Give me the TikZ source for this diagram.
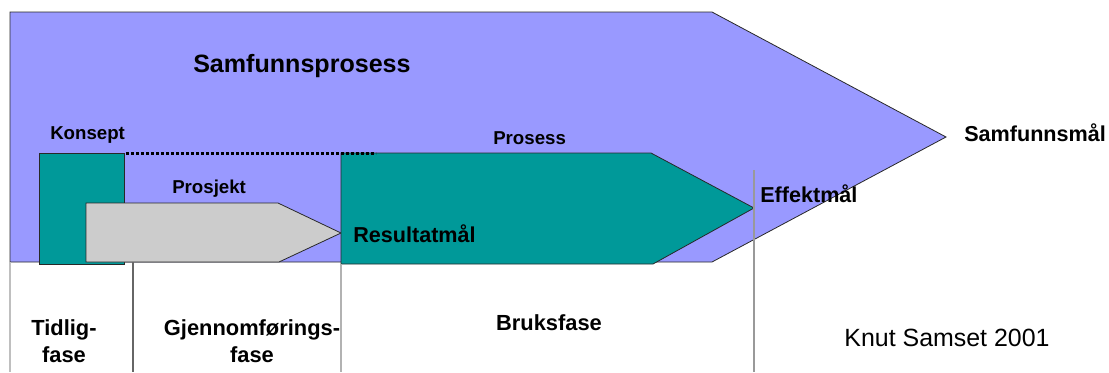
\documentclass[tikz,border=0pt]{standalone}
\usepackage{fontspec}
\setmainfont{Liberation Sans}
\definecolor{samfunn}{RGB}{153,153,255}
\definecolor{tealfill}{RGB}{0,153,153}
\definecolor{greyfill}{RGB}{204,204,204}
\definecolor{edge}{RGB}{40,40,40}
\begin{document}
\begin{tikzpicture}[x=0.75pt,y=-0.75pt,
  shapeline/.style={draw=edge,line width=0.6pt},
  bigtitle/.style={font=\bfseries\fontsize{18.8}{22}\selectfont,inner sep=0pt,anchor=base west},
  smalllbl/.style={font=\bfseries\fontsize{14}{17}\selectfont,inner sep=0pt,anchor=base west},
  goallbl/.style={font=\bfseries\fontsize{16.2}{19}\selectfont,inner sep=0pt,anchor=base west},
  phaselbl/.style={font=\bfseries\fontsize{16.4}{19}\selectfont,inner sep=0pt,anchor=base},
  divider/.style={line width=0.8pt}]
\useasboundingbox (0,0) rectangle (1109,372);

% society process arrow
\path[shapeline,fill=samfunn] (10,12) -- (712,12) -- (946,137) -- (712,262) -- (10,262) -- cycle;
% concept block
\path[shapeline,fill=tealfill] (39,153) rectangle (124,264);
% project arrow
\path[shapeline,fill=greyfill] (86,203) -- (278,203) -- (341,233) -- (279,262) -- (86,262) -- cycle;
% process (use) arrow
\path[shapeline,fill=tealfill] (341,153) -- (651,153) -- (754,208) -- (653,264) -- (341,264) -- cycle;
% dotted link between concept and process
\coordinate (dotA) at (126,153.3);
\coordinate (dotB) at (376,153.3);
\draw[line width=1.9pt,dash pattern=on 1.95pt off 1.8pt,color=black] (dotA) -- (dotB);

% phase dividers
\coordinate (d0t) at (10,262);  \coordinate (d0b) at (10,372);
\coordinate (d1t) at (133,262); \coordinate (d1b) at (133,372);
\coordinate (d2t) at (341,264); \coordinate (d2b) at (341,372);
\coordinate (d3t) at (754,170); \coordinate (d3b) at (754,372);
\draw[divider,color=black!25] (d0t) -- (d0b);
\draw[divider,color=black!60] (d1t) -- (d1b);
\draw[divider,color=black!30] (d2t) -- (d2b);
\draw[divider,color=black!40] (d3t) -- (d3b);

% labels
\node[bigtitle] (samfprosess) at (193,72) {Samfunnsprosess};
\node[smalllbl] (konsept) at (50,139.5) {Konsept};
\node[smalllbl] (prosjekt) at (172,193.5) {Prosjekt};
\node[smalllbl] (prosess) at (493,144) {Prosess};
\node[goallbl] (resultat) at (353,242.5) {Resultatmål};
\node[goallbl] (effekt) at (760,202.5) {Effektmål};
\node[goallbl] (samfmaal) at (964,141.5) {Samfunnsmål};

\node[phaselbl] (tidlig1) at (64,335) {Tidlig-};
\node[phaselbl] (tidlig2) at (64,362) {fase};
\node[phaselbl] (gjen1) at (252,335) {Gjennomførings-};
\node[phaselbl] (gjen2) at (252,362) {fase};
\node[phaselbl] (bruk) at (549,330.5) {Bruksfase};
\node[font=\fontsize{18.7}{22}\selectfont,inner sep=0pt,anchor=base] (credit) at (947,346) {Knut Samset 2001};
\end{tikzpicture}
\end{document}
